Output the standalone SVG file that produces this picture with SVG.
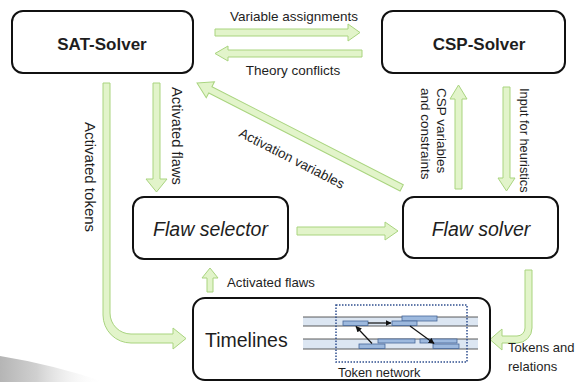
<svg xmlns="http://www.w3.org/2000/svg" width="579" height="382" viewBox="0 0 579 382">
<defs>
<style>
.box{fill:#fff;stroke:#111;stroke-width:2}
.arr{fill:#e2f4ca;stroke:#a9d47f;stroke-width:1}
text{font-family:"Liberation Sans",Arial,sans-serif;fill:#1e1e1e}
.title{font-size:17px;font-weight:bold;text-anchor:middle}
.ital{font-size:19.5px;font-style:italic;text-anchor:middle}
.lbl{font-size:13.5px}
.band{fill:#dce6f2}
.tl{stroke:#333;stroke-width:0.8}
.tok{fill:#9db9de;stroke:#46679a;stroke-width:0.8}
.tarr{stroke:#111;stroke-width:1.2;fill:none;marker-end:url(#ah)}
</style>
<marker id="ah" viewBox="0 0 10 10" refX="9" refY="5" markerWidth="5" markerHeight="5" orient="auto">
<path d="M0,0 L10,5 L0,10 Z" fill="#111"/>
</marker>
<linearGradient id="sw" x1="0" y1="0" x2="1" y2="0">
<stop offset="0" stop-color="#b5b5b5"/>
<stop offset="0.35" stop-color="#d0d0d0"/>
<stop offset="1" stop-color="#ffffff" stop-opacity="0"/>
</linearGradient>
</defs>
<path d="M0,356 Q50,364 105,382 L0,382 Z" fill="url(#sw)"/>
<g id="connectors">
<path class="arr" d="M215,29 H348 V24 L360,32.5 L348,41 V36 H215 Z"/>
<path class="arr" d="M362,50 H228 V46 L215,53.5 L228,61 V57 H362 Z"/>
<path class="arr" d="M153,83 H160 V179 H167 L156.5,192 L146,179 H153 Z"/>
<path class="arr" d="M103,83 H110 V313 A21,21 0 0 0 131,334 H173 V328 L186,338.5 L173,349 V343 H131 A28,28 0 0 1 103,315 Z"/>
<path class="arr" transform="translate(197,83) rotate(27.12)" d="M0,0 L15,-9 L15,-3.5 L230,-3.5 L230,3.5 L15,3.5 L15,9 Z"/>
<path class="arr" d="M297,227 H385 V222 L398,231 L385,240 V235 H297 Z"/>
<path class="arr" d="M455,189 V99 H450 L458.5,85 L467,99 H462 V189 Z"/>
<path class="arr" d="M503,87 H510 V178 H515 L506.5,191 L498,178 H503 Z"/>
<path class="arr" d="M525,270 H532 V328 A15,15 0 0 1 517,343 H502 V350 L490,339.5 L502,329 V336 H517 A8,8 0 0 0 525,328 Z"/>
<path class="arr" d="M207,292 V278 H202 L210,268 L218,278 H213 V292 Z"/>
<text class="lbl" x="294" y="21" text-anchor="middle">Variable assignments</text>
<text class="lbl" x="293" y="75" text-anchor="middle">Theory conflicts</text>
<text class="lbl" style="font-size:15px" transform="translate(85,122) rotate(90)">Activated tokens</text>
<text class="lbl" style="font-size:14.7px" transform="translate(172,87) rotate(90)">Activated flaws</text>
<text class="lbl" transform="translate(238,136) rotate(27.12)">Activation variables</text>
<text class="lbl" transform="translate(437,88) rotate(90)">CSP variables</text>
<text class="lbl" transform="translate(421,88) rotate(90)">and constraints</text>
<text class="lbl" style="font-size:12.8px" transform="translate(520,88) rotate(90)">Input for heuristics</text>
<text class="lbl" style="font-size:13.2px" x="227" y="287">Activated flaws</text>
<text class="lbl" style="font-size:13px" x="508" y="352">Tokens and</text>
<text class="lbl" style="font-size:13px" x="508" y="371">relations</text>
</g>
<g id="sat-solver">
<rect class="box" x="12" y="11" width="181" height="62" rx="11"/>
<text class="title" x="102" y="50">SAT-Solver</text>
</g>
<g id="csp-solver">
<rect class="box" x="382" y="11" width="183" height="62" rx="11"/>
<text class="title" x="479" y="50">CSP-Solver</text>
</g>
<g id="flaw-selector">
<rect class="box" x="133" y="197" width="155" height="62" rx="11"/>
<text class="ital" x="210.5" y="236">Flaw selector</text>
</g>
<g id="flaw-solver">
<rect class="box" x="403" y="197" width="155" height="61" rx="11"/>
<text class="ital" x="481" y="236">Flaw solver</text>
</g>
<g id="timelines">
<rect class="box" x="193" y="298" width="297" height="82" rx="12"/>
<text x="205" y="347" style="font-size:19.5px">Timelines</text>
<rect class="band" x="303" y="317" width="175" height="9"/>
<rect class="band" x="303" y="339" width="175" height="10"/>
<line class="tl" x1="303" y1="317" x2="478" y2="317"/>
<line class="tl" x1="303" y1="326" x2="478" y2="326"/>
<line class="tl" x1="303" y1="339" x2="478" y2="339"/>
<line class="tl" x1="303" y1="349" x2="478" y2="349"/>
<rect class="tok" x="402" y="316" width="35" height="5"/>
<rect class="tok" x="343" y="321" width="25" height="4.5"/>
<rect class="tok" x="392" y="321" width="25" height="4.5"/>
<rect class="tok" x="378" y="339" width="37" height="4"/>
<rect class="tok" x="420" y="339" width="37" height="4"/>
<rect class="tok" x="359" y="344" width="26" height="4.5"/>
<rect class="tok" x="433" y="344" width="26" height="4.5"/>
<line class="tarr" x1="368" y1="323" x2="391" y2="323"/>
<line class="tarr" x1="372" y1="343.5" x2="356" y2="326.5"/>
<line class="tarr" x1="410" y1="326" x2="434" y2="343.5"/>
<rect x="336" y="305" width="131" height="57" fill="none" stroke="#2f4f8f" stroke-width="1.5" stroke-dasharray="1.5,1.5"/>
<text x="338" y="377" style="font-size:12.8px">Token network</text>
</g>
</svg>
